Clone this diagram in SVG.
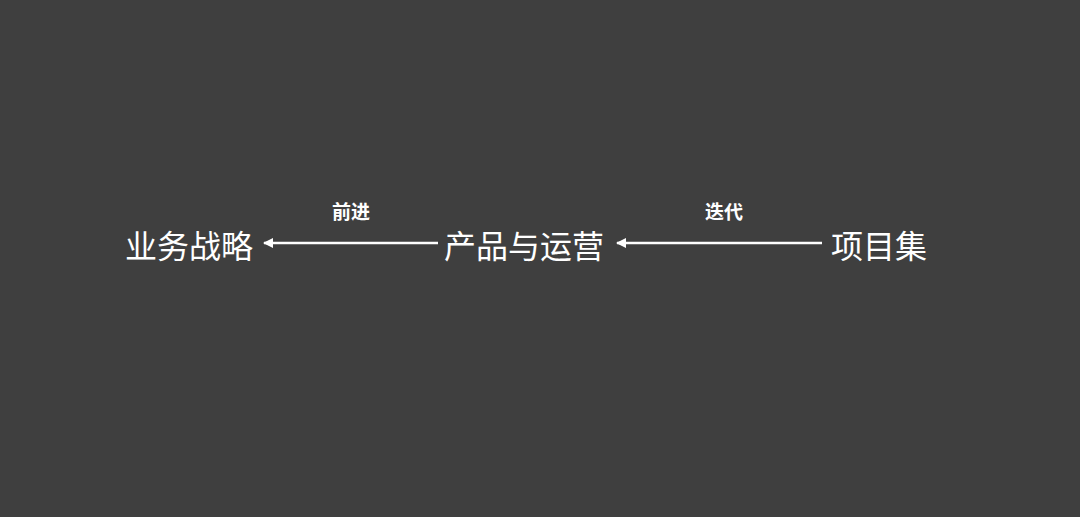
<svg xmlns="http://www.w3.org/2000/svg" width="1080" height="517" viewBox="0 0 1080 517">
<style>
.node{font-family:"Noto Sans CJK SC","Noto Sans",sans-serif;font-size:32px;fill:#ffffff}
.lbl{font-family:"Noto Sans CJK SC","Noto Sans",sans-serif;font-size:19px;font-weight:bold;fill:#ffffff}
.conn{stroke:#ffffff;stroke-width:2.5;fill:none;marker-end:url(#ah)}
</style>
<defs>
<marker id="ah" viewBox="0 0 10 10" refX="9" refY="5" markerWidth="4" markerHeight="4" orient="auto" markerUnits="strokeWidth">
<path d="M0,0 L10,5 L0,10 z" fill="#ffffff"/>
</marker>
</defs>
<rect width="1080" height="517" fill="#3f3f3f"/>
<g id="connectors">
<line class="conn" x1="438" y1="243" x2="264" y2="243"/>
<line class="conn" x1="822" y1="243" x2="617" y2="243"/>
<text class="lbl" x="351" y="219" text-anchor="middle">前进</text>
<text class="lbl" x="724" y="219" text-anchor="middle">迭代</text>
</g>
<g id="n1"><text class="node" x="125" y="258">业务战略</text></g>
<g id="n2"><text class="node" x="444" y="258">产品与运营</text></g>
<g id="n3"><text class="node" x="831" y="258">项目集</text></g>
</svg>
